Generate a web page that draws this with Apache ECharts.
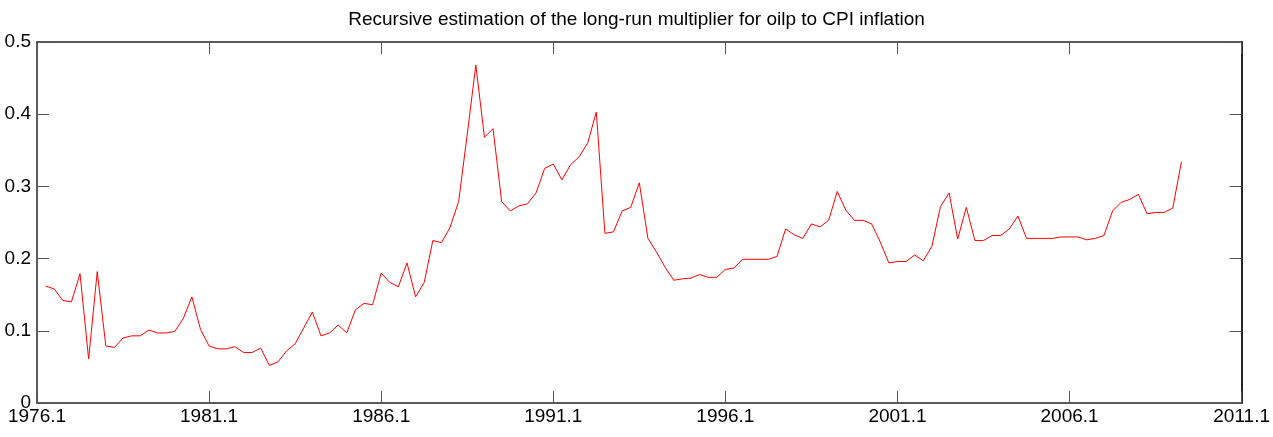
<!DOCTYPE html>
<html>
<head>
<meta charset="utf-8">
<script src="https://cdn.jsdelivr.net/npm/echarts@6/dist/echarts.min.js"></script>
<style>
  html, body { margin: 0; padding: 0; background: #fff; }
  #chart { width: 1273px; height: 437px; }
</style>
</head>
<body>
<div id="chart"></div>
<script>
// Quarterly axis, 1976.1 through 2011.1
const startYear = 1976;
const endYear = 2011;
// Recursive long-run multiplier estimates, 1976.2 onward
const firstObs = '1976.2';
const multiplier = [
  0.162, 0.158, 0.142, 0.140, 0.179, 0.061, 0.182, 0.079, 0.077, 0.090,
  0.093, 0.093, 0.101, 0.097, 0.097, 0.099, 0.117, 0.147, 0.102, 0.079,
  0.075, 0.075, 0.078, 0.070, 0.070, 0.076, 0.052, 0.057, 0.072, 0.082,
  0.104, 0.126, 0.093, 0.097, 0.108, 0.097, 0.129, 0.138, 0.136, 0.180,
  0.167, 0.161, 0.194, 0.147, 0.167, 0.225, 0.222, 0.243, 0.279, 0.372,
  0.468, 0.368, 0.380, 0.279, 0.266, 0.273, 0.276, 0.291, 0.325, 0.331,
  0.309, 0.330, 0.341, 0.360, 0.403, 0.235, 0.237, 0.266, 0.271, 0.305,
  0.228, 0.209, 0.188, 0.170, 0.172, 0.173, 0.178, 0.174, 0.174, 0.185,
  0.187, 0.199, 0.199, 0.199, 0.199, 0.203, 0.241, 0.233, 0.228, 0.248,
  0.244, 0.253, 0.293, 0.267, 0.253, 0.253, 0.248, 0.223, 0.194, 0.196,
  0.196, 0.205, 0.197, 0.217, 0.272, 0.291, 0.227, 0.271, 0.225, 0.225,
  0.232, 0.232, 0.241, 0.259, 0.228, 0.228, 0.228, 0.228, 0.230, 0.230,
  0.230, 0.226, 0.228, 0.232, 0.266, 0.278, 0.282, 0.289, 0.262, 0.264,
  0.264, 0.270, 0.334
];
const yTicks = [0, 0.1, 0.2, 0.3, 0.4, 0.5];

const quarters = [];
for (let y = startYear; y <= endYear; y++) {
  for (let q = 1; q <= 4; q++) {
    quarters.push(y + '.' + q);
    if (y === endYear) break;
  }
}
const start = quarters.indexOf(firstObs);
const seriesData = multiplier.map((v, i) => [quarters[start + i], v]);

const FONT = '"Liberation Sans", Arial, sans-serif';
const boxColor = '#262626';
const tickStyle = { show: true, inside: true, length: 12, lineStyle: { color: '#555', width: 1 } };

const chart = echarts.init(document.getElementById('chart'), null, { renderer: 'canvas' });
chart.setOption({
  animation: false,
  backgroundColor: '#fff',
  title: {
    text: 'Recursive estimation of the long-run multiplier for oilp to CPI inflation',
    left: 'center',
    top: 5,
    textStyle: { fontFamily: FONT, fontSize: 19, fontWeight: 'normal', color: '#000' }
  },
  grid: { left: 37, right: 30, top: 42, bottom: 34, containLabel: false },
  xAxis: [
    {
      type: 'category',
      data: quarters,
      boundaryGap: false,
      position: 'bottom',
      axisLine: { show: true, onZero: false, lineStyle: { color: boxColor, width: 1.5 } },
      axisTick: Object.assign({ interval: 19 }, tickStyle),
      axisLabel: {
        interval: 19, margin: 4, color: '#000',
        fontFamily: FONT, fontSize: 19, showMaxLabel: true, showMinLabel: true
      },
      splitLine: { show: false }
    },
    {
      type: 'category',
      data: quarters,
      boundaryGap: false,
      position: 'top',
      axisLine: { show: true, onZero: false, lineStyle: { color: boxColor, width: 1.5 } },
      axisTick: Object.assign({ interval: 19 }, tickStyle),
      axisLabel: { show: false },
      splitLine: { show: false }
    }
  ],
  yAxis: [
    {
      type: 'value',
      min: yTicks[0],
      max: yTicks[yTicks.length - 1],
      interval: 0.1,
      position: 'left',
      axisLine: { show: true, onZero: false, lineStyle: { color: boxColor, width: 1.5 } },
      axisTick: tickStyle,
      axisLabel: {
        margin: 6, color: '#000', fontFamily: FONT, fontSize: 19,
        padding: [0, 0, 4, 0],
        formatter: v => String(Math.round(v * 10) / 10)
      },
      splitLine: { show: false }
    },
    {
      type: 'value',
      min: yTicks[0],
      max: yTicks[yTicks.length - 1],
      interval: 0.1,
      position: 'right',
      axisLine: { show: true, onZero: false, lineStyle: { color: boxColor, width: 2 } },
      axisTick: tickStyle,
      axisLabel: { show: false },
      splitLine: { show: false }
    }
  ],
  series: [
    {
      type: 'line',
      xAxisIndex: 0,
      yAxisIndex: 0,
      data: seriesData,
      showSymbol: false,
      symbol: 'none',
      lineStyle: { color: '#ff0000', width: 1 },
      itemStyle: { color: '#ff0000' }
    }
  ]
});
</script>
</body>
</html>
